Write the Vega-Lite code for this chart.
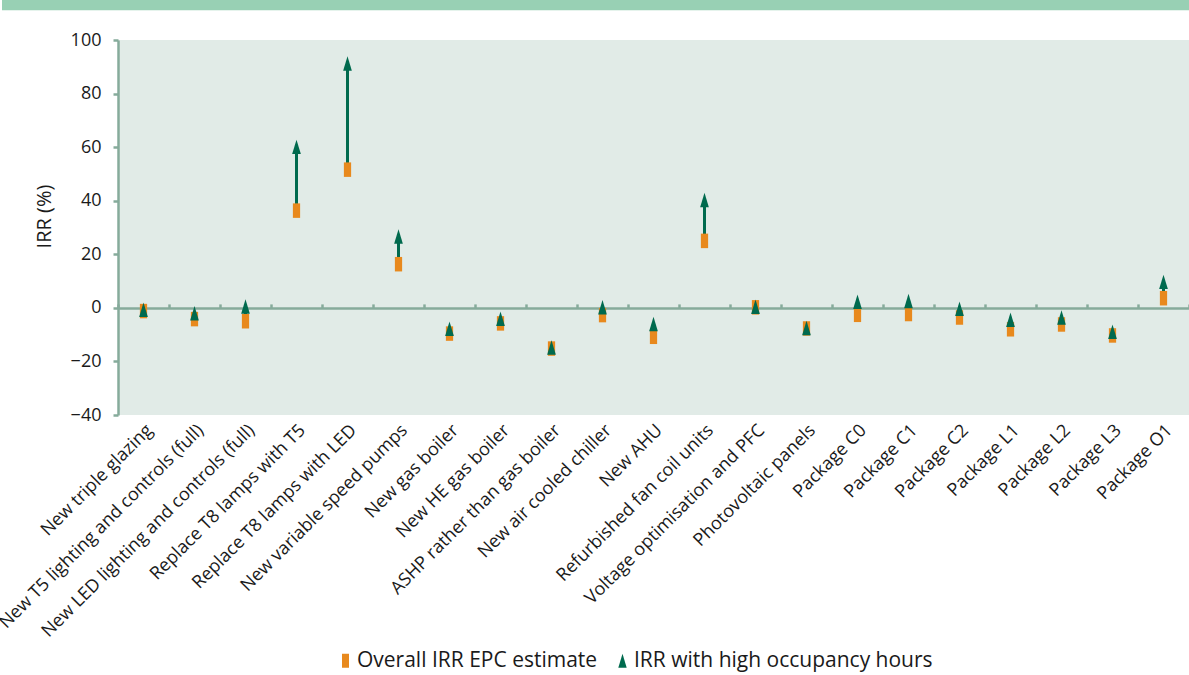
{
  "$schema": "https://vega.github.io/schema/vega-lite/v6.json",
  "width": 1071,
  "height": 375,
  "autosize": "none",
  "padding": {"left": 118, "top": 40, "right": 0, "bottom": 260},
  "background": "white",
  "config": {
    "view": {"fill": "#e1ebe7", "stroke": null},
    "font": "Open Sans",
    "axisY": {
      "titleFontSize": 20, "titleFontWeight": "normal", "titleColor": "#1a1a1a",
      "titlePadding": 16, "titleFont": "Open Sans",
      "grid": false,
      "domainColor": "#86ab9b", "domainWidth": 2.5,
      "tickColor": "#86ab9b", "tickWidth": 2.5, "tickSize": 5,
      "labelFontSize": 18, "labelColor": "#1a1a1a", "labelPadding": 12, "labelFont": "Open Sans"
    },
    "legend": {
      "orient": "none",
      "legendX": 217,
      "legendY": 610,
      "direction": "horizontal",
      "title": null,
      "labelFont": "Open Sans",
      "labelFontSize": 21,
      "labelColor": "#1a1a1a",
      "labelOffset": 1,
      "labelLimit": 0,
      "columnPadding": 14,
      "symbolSize": 196,
      "symbolStrokeWidth": 0,
      "padding": 0
    }
  },
  "datasets": {
    "irr": [
      {"measure": "New triple glazing", "epc": -1.2, "high": -0.7},
      {"measure": "New T5 lighting and controls (full)", "epc": -4.2, "high": -2.0},
      {"measure": "New LED lighting and controls (full)", "epc": -5.0, "high": 0.5},
      {"measure": "Replace T8 lamps with T5", "epc": 36.3, "high": 60.1},
      {"measure": "Replace T8 lamps with LED", "epc": 51.6, "high": 91.2},
      {"measure": "New variable speed pumps", "epc": 16.3, "high": 26.6},
      {"measure": "New gas boiler", "epc": -9.6, "high": -7.8},
      {"measure": "New HE gas boiler", "epc": -5.8, "high": -4.1},
      {"measure": "ASHP rather than gas boiler", "epc": -15.2, "high": -14.8},
      {"measure": "New air cooled chiller", "epc": -2.7, "high": 0.2},
      {"measure": "New AHU", "epc": -10.8, "high": -6.0},
      {"measure": "Refurbished fan coil units", "epc": 25.0, "high": 40.3},
      {"measure": "Voltage optimisation and PFC", "epc": 0.2, "high": 0.4},
      {"measure": "Photovoltaic panels", "epc": -7.7, "high": -7.5},
      {"measure": "Package C0", "epc": -2.6, "high": 2.3},
      {"measure": "Package C1", "epc": -2.3, "high": 2.6},
      {"measure": "Package C2", "epc": -3.6, "high": -0.3},
      {"measure": "Package L1", "epc": -8.0, "high": -4.4},
      {"measure": "Package L2", "epc": -6.2, "high": -3.6},
      {"measure": "Package L3", "epc": -10.3, "high": -8.9},
      {"measure": "Package O1", "epc": 3.6, "high": 9.7}
    ],
    "header": [{"part": "band"}]
  },
  "layer": [
    {
      "data": {"name": "header"},
      "mark": {"type": "rect", "color": "#98d0b4", "clip": false},
      "encoding": {
        "x": {"datum": -116, "type": "quantitative", "scale": {"domain": [0, 1071], "nice": false, "zero": false}, "axis": null},
        "x2": {"datum": 1071},
        "y": {"datum": 111.1, "type": "quantitative", "scale": {"domain": [-40, 100], "nice": false}, "title": "IRR (%)",
              "axis": {"titleFontSize": 20, "titlePadding": 16, "titleFont": "Open Sans", "titleFontWeight": "normal", "titleColor": "#1a1a1a", "titleY": 176, "values": [-40, -20, 0, 20, 40, 60, 80, 100]}},
        "y2": {"datum": 116}
      }
    },
    {
      "data": {"name": "irr"},
      "mark": {"type": "rule", "color": "#006a4e", "strokeWidth": 3},
      "encoding": {
        "x": {
          "field": "measure", "type": "nominal", "sort": null,
          "scale": {"type": "band", "paddingInner": 0, "paddingOuter": 0},
          "axis": {
            "orient": "top", "offset": -267.9, "labels": false, "title": null,
            "domain": true, "domainColor": "#86ab9b", "domainWidth": 2.5,
            "ticks": true, "tickBand": "extent", "tickColor": "#86ab9b", "tickWidth": 2.5, "tickSize": 4
          }
        },
        "y": {"field": "epc", "type": "quantitative", "scale": {"domain": [-40, 100], "nice": false}, "title": "IRR (%)",
              "axis": {"titleFontSize": 20, "titlePadding": 16, "titleFont": "Open Sans", "titleFontWeight": "normal", "titleColor": "#1a1a1a", "titleY": 176, "values": [-40, -20, 0, 20, 40, 60, 80, 100]}},
        "y2": {"field": "high"}
      }
    },
    {
      "data": {"name": "irr"},
      "transform": [
        {"fold": ["epc", "high"], "as": ["key", "value"]},
        {"lookup": "key", "from": {"data": {"values": [
          {"key": "epc", "series": "Overall IRR EPC estimate"},
          {"key": "high", "series": "IRR with high occupancy hours"}
        ]}, "key": "key", "fields": ["series"]}}
      ],
      "mark": {"type": "point", "filled": true, "opacity": 1, "strokeWidth": 0},
      "encoding": {
        "x": {
          "field": "measure", "type": "nominal", "sort": null,
          "scale": {"type": "band", "paddingInner": 0, "paddingOuter": 0},
          "axis": {
            "orient": "bottom", "title": null, "domain": false, "ticks": false,
            "labelAngle": -45, "labelFontSize": 18, "labelColor": "#1a1a1a",
            "labelPadding": 6, "labelLimit": 0, "labelOverlap": false, "labelFont": "Open Sans"
          }
        },
        "y": {
          "field": "value", "type": "quantitative",
          "scale": {"domain": [-40, 100], "nice": false},
          "title": "IRR (%)",
          "axis": {"titleFontSize": 20, "titlePadding": 16, "titleFont": "Open Sans", "titleFontWeight": "normal", "titleColor": "#1a1a1a", "titleY": 176, "values": [-40, -20, 0, 20, 40, 60, 80, 100]}
        },
        "color": {
          "field": "series", "type": "nominal",
          "scale": {"domain": ["Overall IRR EPC estimate", "IRR with high occupancy hours"], "range": ["#e8891d", "#006a4e"]}
        },
        "shape": {
          "field": "series", "type": "nominal",
          "scale": {"domain": ["Overall IRR EPC estimate", "IRR with high occupancy hours"], "range": ["M-0.5,-1H0.5V1H-0.5Z", "M0,-1L0.6,1L-0.6,1Z"]}
        },
        "size": {"value": 210}
      }
    }
  ],
  "resolve": {"scale": {"x": "independent"}, "axis": {"x": "independent"}}
}
